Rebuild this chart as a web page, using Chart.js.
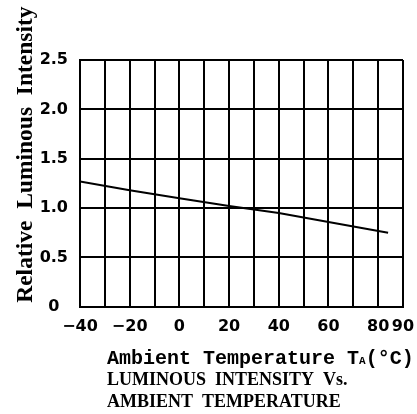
<!DOCTYPE html>
<html><head><meta charset="utf-8">
<script src="https://cdn.jsdelivr.net/npm/chart.js@4"></script>
<style>html,body{margin:0;padding:0;background:#fff}</style>
</head><body>
<canvas id="c" width="417" height="414"></canvas>
<script>
// ---- data ----
const temperatures = [-40, -20, 0, 20, 40, 60, 84];
const relativeIntensity = [1.27, 1.18, 1.10, 1.02, 0.95, 0.86, 0.75];
const xTickValues = [-40, -20, 0, 20, 40, 60, 80, 90];
const xTickLabels = ['\u221240', '\u221220', '0', '20', '40', '60', '80', '90'];
const yTickValues = [0, 0.5, 1, 1.5, 2, 2.5];
const yTickLabels = ['0', '0.5', '1.0', '1.5', '2.0', '2.5'];
const yTitle = 'Relative  Luminous  Intensity';
const xTitleParts = ['Ambient Temperature T', 'A', '(\u00B0C)'];
const captionLines = ['LUMINOUS  INTENSITY  Vs.', 'AMBIENT  TEMPERATURE'];

const titlesPlugin = {
  id: 'titlesPlugin',
  afterDraw(chart) {
    const {ctx, chartArea: a} = chart;
    ctx.save();
    ctx.fillStyle = '#000';
    ctx.textAlign = 'left';
    ctx.textBaseline = 'alphabetic';
    // y-axis title (rotated)
    ctx.save();
    ctx.translate(a.left - 48, a.bottom - 4);
    ctx.rotate(-Math.PI / 2);
    ctx.font = 'bold 23.5px "Liberation Serif"';
    ctx.fillText(yTitle, 0, 0);
    ctx.restore();
    // x-axis title
    let x = a.left + 27;
    const y1 = a.bottom + 57;
    ctx.font = 'bold 20px "Liberation Mono"';
    ctx.fillText(xTitleParts[0], x, y1);
    x += ctx.measureText(xTitleParts[0]).width;
    ctx.font = 'bold 11px "Liberation Mono"';
    ctx.fillText(xTitleParts[1], x, y1);
    x += ctx.measureText(xTitleParts[1]).width;
    ctx.font = 'bold 20px "Liberation Mono"';
    ctx.fillText(xTitleParts[2], x, y1);
    // caption
    ctx.font = 'bold 18px "Liberation Serif"';
    ctx.fillText(captionLines[0], a.left + 27, a.bottom + 78);
    ctx.fillText(captionLines[1], a.left + 27, a.bottom + 100);
    ctx.restore();
  }
};

const tickFont = {family: 'DejaVu Sans', size: 16, weight: 'bold'};

new Chart(document.getElementById('c'), {
  type: 'line',
  data: {
    datasets: [{
      data: temperatures.map((t, i) => ({x: t, y: relativeIntensity[i]})),
      borderColor: '#000',
      borderWidth: 2,
      pointRadius: 0,
      tension: 0,
      fill: false
    }]
  },
  options: {
    responsive: false,
    animation: false,
    devicePixelRatio: 1,
    layout: {padding: {top: 60, right: 14, bottom: 68, left: 0}},
    plugins: {legend: {display: false}, tooltip: {enabled: false}},
    scales: {
      x: {
        type: 'linear',
        min: -40, max: 90,
        afterBuildTicks(scale) {
          const t = [];
          for (let v = -40; v <= 90; v += 10) t.push({value: v});
          scale.ticks = t;
        },
        afterFit(scale) { scale.paddingRight = 0; scale.paddingLeft = 0; },
        grid: {color: '#000', lineWidth: 2, drawTicks: false},
        border: {color: '#000', width: 2},
        ticks: {
          autoSkip: false, maxRotation: 0, padding: 10,
          color: '#000', font: tickFont,
          callback: (v) => {
            const i = xTickValues.indexOf(v);
            return i >= 0 ? xTickLabels[i] : '';
          }
        }
      },
      y: {
        min: 0, max: 2.5,
        afterFit(scale) { scale.width = 80; },
        grid: {color: '#000', lineWidth: 2, drawTicks: false},
        border: {color: '#000', width: 2},
        ticks: {
          stepSize: 0.5, padding: 12, crossAlign: 'center',
          color: '#000', font: tickFont,
          callback: (v) => {
            const i = yTickValues.findIndex(u => Math.abs(u - v) < 1e-9);
            return i >= 0 ? yTickLabels[i] : '';
          }
        }
      }
    }
  },
  plugins: [titlesPlugin]
});
</script>
</body></html>
